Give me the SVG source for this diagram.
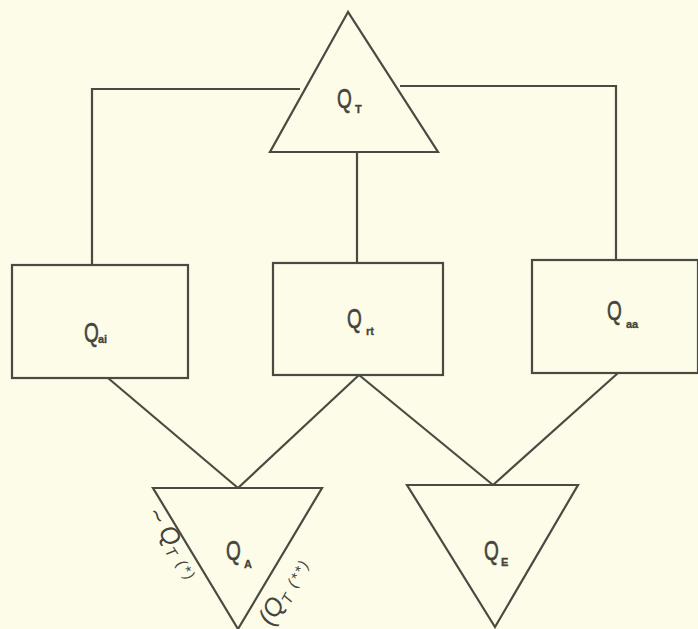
<svg xmlns="http://www.w3.org/2000/svg" width="698" height="629" viewBox="0 0 698 629">
<style>
.s{fill:none;stroke:#4a4a42;stroke-width:2.2;stroke-linejoin:miter}
.n{fill:#fdfce9;stroke:#4a4a42;stroke-width:2.2}
.q{font-family:"Liberation Sans","DejaVu Sans",sans-serif;font-size:28px;fill:#44443c;stroke:#44443c;stroke-width:0.6}
.sub{font-size:11px;font-weight:bold;stroke-width:0.3}
.h{font-family:"Liberation Sans","DejaVu Sans",sans-serif;font-style:italic;font-size:25px;fill:#44443c}
.hs{font-size:15px;letter-spacing:2px}
</style>
<rect width="698" height="629" fill="#fdfce9"/>
<g id="connectors">
<polyline class="s" points="92,265 92,89 300,89"/>
<polyline class="s" points="400,86 616,86 616,260"/>
<line class="s" x1="357" y1="152" x2="357" y2="263"/>
<line class="s" x1="108" y1="378" x2="238" y2="488"/>
<line class="s" x1="359" y1="375" x2="238" y2="488"/>
<line class="s" x1="359" y1="375" x2="493" y2="485"/>
<line class="s" x1="618" y1="373" x2="493" y2="485"/>
</g>
<g id="QT">
<polygon class="n" points="348,12 270,152 438,152"/>
<text class="q" transform="translate(337,108) scale(0.68,1)">Q</text>
<text class="q sub" x="355" y="113">T</text>
</g>
<g id="Qai">
<rect class="n" x="12" y="265" width="176" height="113"/>
<text class="q" transform="translate(84,342) scale(0.68,1)">Q</text>
<text class="q sub" x="98" y="343">ai</text>
</g>
<g id="Qrt">
<rect class="n" x="273" y="263" width="170" height="112"/>
<text class="q" transform="translate(347,328) scale(0.68,1)">Q</text>
<text class="q sub" x="366" y="335">rt</text>
</g>
<g id="Qaa">
<rect class="n" x="532" y="260" width="166" height="113"/>
<text class="q" transform="translate(607,320) scale(0.68,1)">Q</text>
<text class="q sub" x="626" y="328">aa</text>
</g>
<g id="QA">
<polygon class="n" points="153,488 322,488 238,629"/>
<text class="q" transform="translate(226,560) scale(0.68,1)">Q</text>
<text class="q sub" x="244" y="568">A</text>
<text class="h" transform="translate(146,514) rotate(57)">~ Q<tspan class="hs" dy="5">T</tspan><tspan class="hs" dy="-3"> (*)</tspan></text>
<text class="h" transform="translate(272,627) rotate(-61)">(Q<tspan class="hs" dy="5">T</tspan><tspan class="hs" dy="-3"> (**)</tspan></text>
</g>
<g id="QE">
<polygon class="n" points="407,485 578,485 495,627"/>
<text class="q" transform="translate(484,560) scale(0.68,1)">Q</text>
<text class="q sub" x="501" y="566">E</text>
</g>
</svg>
